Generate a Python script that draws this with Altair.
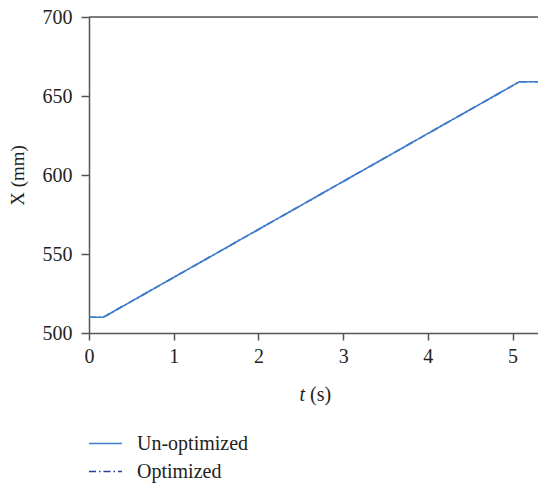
import altair as alt
import pandas as pd

t_vals = [0.0, 0.17, 5.08, 5.3]
x_vals = [510.0, 510.0, 659.0, 659.0]
series = ["Un-optimized", "Optimized"]
colors = ["#3d7fcf", "#2b3d9c"]

rows = []
for s in series:
    for t, x in zip(t_vals, x_vals):
        rows.append({"t": t, "X": x, "series": s})
df = pd.DataFrame(rows)

FONT = "Liberation Serif, DejaVu Serif, serif"
TXT = "#231f20"
AX = "#555555"

xscale = alt.Scale(domain=[0, 5.3], nice=False, zero=False)
yscale = alt.Scale(domain=[500, 700], nice=False, zero=False)

xenc = alt.X("t:Q", scale=xscale,
             axis=alt.Axis(title=None, values=[0, 1, 2, 3, 4, 5], format="d",
                           tickSize=7, labelPadding=6, labelFontSize=20,
                           labelFont=FONT, labelColor=TXT, labelFlush=False,
                           domainColor=AX, tickColor=AX,
                           domainWidth=1.5, tickWidth=1.5, grid=False))
yenc = alt.Y("X:Q", scale=yscale,
             axis=alt.Axis(title="X (mm)", values=[500, 550, 600, 650, 700],
                           tickSize=8, labelPadding=9, labelFontSize=20,
                           labelFont=FONT, labelColor=TXT, labelFlush=False,
                           titleFont=FONT, titleFontSize=19, titleFontWeight="normal",
                           titleColor=TXT, titlePadding=15,
                           domainColor=AX, tickColor=AX,
                           domainWidth=1.5, tickWidth=1.5, grid=False))
cenc = alt.Color("series:N", scale=alt.Scale(domain=series, range=colors),
                 sort=series,
                 legend=alt.Legend(title=None, orient="none", legendX=-1, legendY=409,
                                   symbolType="stroke", symbolSize=1089,
                                   symbolStrokeWidth=1.3,
                                   labelFont=FONT, labelFontSize=20,
                                   labelColor=TXT, labelOffset=14,
                                   rowPadding=0))
denc = alt.StrokeDash("series:N",
                      scale=alt.Scale(domain=series, range=[[1, 0], [7, 3, 1.5, 3]]),
                      sort=series, legend=None)

base = alt.Chart(df).mark_line(strokeWidth=1.6, clip=True).encode(
    x=xenc, y=yenc, color=cenc, strokeDash=denc)

opt = base.transform_filter(alt.datum.series == "Optimized")
unopt = base.transform_filter(alt.datum.series == "Un-optimized")

top = alt.Chart(pd.DataFrame({"a": [1]})).mark_rule(color=AX, strokeWidth=1.5).encode(
    x=alt.value(0), x2=alt.value(449), y=alt.value(0)
)

t_label = alt.Chart(pd.DataFrame({"a": [1]})).mark_text(
    text="t", font=FONT, fontSize=20, fontStyle="italic", color=TXT, align="right"
).encode(x=alt.value(216), y=alt.value(378))
s_label = alt.Chart(pd.DataFrame({"a": [1]})).mark_text(
    text="(s)", font=FONT, fontSize=20, color=TXT, align="left"
).encode(x=alt.value(221), y=alt.value(378))

chart = alt.layer(opt, unopt, top, t_label, s_label).properties(
    width=449, height=316,
    autosize=alt.AutoSizeParams(type="none"),
    padding={"left": 89, "top": 17, "right": 0, "bottom": 153},
).configure_view(stroke=None).configure(background="white", font=FONT).configure_axis(
    labelFont=FONT, titleFont=FONT
).configure_legend(labelFont=FONT)

chart.save("out.html", embed_options={"renderer": "svg", "actions": False})
